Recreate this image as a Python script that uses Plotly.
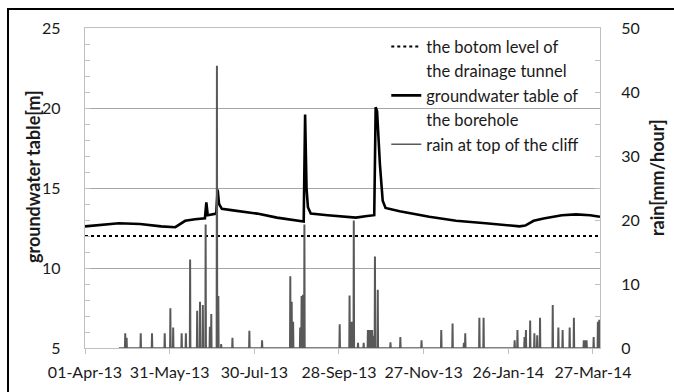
import pandas as pd
import plotly.graph_objects as go

# ---------------- data ----------------
gw_dates = ["2013-04-01", "2013-04-12", "2013-04-25", "2013-05-10", "2013-05-25", "2013-06-04",
            "2013-06-11", "2013-06-18", "2013-06-25", "2013-06-26", "2013-06-27", "2013-07-03",
            "2013-07-04", "2013-07-05", "2013-07-07", "2013-07-15", "2013-08-01", "2013-08-15",
            "2013-09-01", "2013-09-03", "2013-09-04", "2013-09-05", "2013-09-06", "2013-09-08",
            "2013-09-20", "2013-10-01", "2013-10-10", "2013-10-18", "2013-10-23", "2013-10-24",
            "2013-10-25", "2013-10-27", "2013-10-29", "2013-10-31", "2013-11-10", "2013-12-01",
            "2013-12-20", "2014-01-10", "2014-01-25", "2014-02-03", "2014-02-07", "2014-02-13",
            "2014-02-20", "2014-03-05", "2014-03-15", "2014-03-25", "2014-04-01"]
gw_values = [12.6, 12.68, 12.8, 12.75, 12.6, 12.55,
             12.95, 13.05, 13.1, 14.1, 13.3, 13.4,
             14.9, 14.0, 13.7, 13.6, 13.4, 13.15,
             12.95, 12.9, 19.6, 15.0, 13.8, 13.4,
             13.3, 13.2, 13.15, 13.25, 13.3, 20.05,
             19.8, 16.5, 14.2, 13.75, 13.55, 13.2,
             12.95, 12.8, 12.65, 12.6, 12.65, 12.95,
             13.1, 13.3, 13.35, 13.3, 13.2]

tunnel_level = 12.0

rain_dates = ["2013-04-29", "2013-04-30", "2013-05-10", "2013-05-18", "2013-05-27", "2013-05-31",
              "2013-06-02", "2013-06-08", "2013-06-11", "2013-06-14", "2013-06-19", "2013-06-21",
              "2013-06-23", "2013-06-25", "2013-06-28", "2013-06-29", "2013-07-03", "2013-07-04",
              "2013-07-06", "2013-07-14", "2013-07-26", "2013-08-04", "2013-08-24", "2013-08-25",
              "2013-08-26", "2013-08-31", "2013-09-01", "2013-09-02", "2013-09-03", "2013-09-28",
              "2013-10-05", "2013-10-06", "2013-10-07", "2013-10-08", "2013-10-11", "2013-10-15",
              "2013-10-18", "2013-10-19", "2013-10-20", "2013-10-21", "2013-10-22", "2013-10-23",
              "2013-10-25", "2013-11-03", "2013-11-10", "2013-11-25", "2013-12-09", "2013-12-17",
              "2013-12-25", "2013-12-26", "2014-01-05", "2014-01-08", "2014-01-30", "2014-02-01",
              "2014-02-06", "2014-02-07", "2014-02-10", "2014-02-13", "2014-02-15", "2014-02-17",
              "2014-02-26", "2014-03-02", "2014-03-05", "2014-03-10", "2014-03-13", "2014-03-20",
              "2014-03-21", "2014-03-22", "2014-03-27", "2014-03-30", "2014-03-31"]
rain_values = [2.2, 1.5, 2.2, 2.2, 2.2, 6.1,
               3.1, 2.2, 2.2, 13.7, 5.7, 7.1,
               6.6, 19.2, 3.2, 5.2, 44.0, 8.0,
               0.5, 1.5, 2.6, 1.1, 11.1, 7.1,
               4.0, 3.1, 8.0, 8.2, 19.2, 3.6,
               8.1, 4.0, 4.0, 19.8, 0.7, 0.7,
               2.7, 2.7, 2.7, 2.7, 1.8, 14.2,
               9.0, 0.8, 1.6, 1.1, 2.7, 3.7,
               0.7, 2.2, 4.6, 4.6, 1.1, 2.7,
               1.6, 2.7, 4.2, 2.2, 1.9, 4.6,
               6.6, 3.1, 2.7, 3.1, 4.6, 1.1,
               1.1, 1.1, 1.6, 4.0, 4.3]
rain_start = "2013-04-25"
period_end = "2014-04-01"

x_start = "2013-04-01"
x_end = "2014-04-01"
tick_step_days = 60

legend_labels = ["the botom level of", "the drainage tunnel",
                 "groundwater table of", "the borehole",
                 "rain at top of the cliff"]

# ---------------- build rain line (hourly-like spikes) ----------------
rx = [pd.Timestamp(rain_start)]
ry = [0.0]
for d, v in sorted(zip(rain_dates, rain_values)):
    t = pd.Timestamp(d) + pd.Timedelta(hours=12)
    rx += [t - pd.Timedelta(hours=10), t - pd.Timedelta(hours=5), t + pd.Timedelta(hours=5),
           t + pd.Timedelta(hours=10)]
    ry += [0.0, v, v, 0.0]
rx.append(pd.Timestamp(period_end))
ry.append(0.0)

FONT = "Lato"
TXT = "#1a1a1a"
fig = go.Figure()

fig.add_trace(go.Scatter(
    x=[x_start, x_end], y=[tunnel_level, tunnel_level], mode="lines",
    name=legend_labels[0],
    line=dict(color="black", width=2.2, dash="dot"), yaxis="y"))
fig.add_trace(go.Scatter(
    x=[None], y=[None], mode="lines", name=legend_labels[1],
    line=dict(color="rgba(0,0,0,0)", width=0), yaxis="y", hoverinfo="skip"))
fig.add_trace(go.Scatter(
    x=gw_dates, y=gw_values, mode="lines",
    name=legend_labels[2],
    line=dict(color="black", width=2.6), yaxis="y"))
fig.add_trace(go.Scatter(
    x=[None], y=[None], mode="lines", name=legend_labels[3],
    line=dict(color="rgba(0,0,0,0)", width=0), yaxis="y", hoverinfo="skip"))
fig.add_trace(go.Scatter(
    x=rx, y=ry, mode="lines",
    name=legend_labels[4],
    line=dict(color="#595959", width=1.4), yaxis="y2"))

grid = "#A6A6A6"
border = "#BFBFBF"

fig.update_layout(
    width=674, height=392,
    margin=dict(l=85, r=74, t=28, b=44),
    paper_bgcolor="white", plot_bgcolor="white",
    font=dict(family=FONT, size=16, color=TXT),
    showlegend=True,
    legend=dict(x=0.585, y=0.996, xanchor="left", yanchor="top",
                bgcolor="rgba(0,0,0,0)", borderwidth=0,
                font=dict(family=FONT, size=16.5, color=TXT),
                itemwidth=30, tracegroupgap=0),
    xaxis=dict(
        type="date", range=[x_start, x_end],
        tick0=x_start, dtick=tick_step_days * 86400000,
        tickformat="%d-%b-%y",
        showgrid=False, showline=True, linecolor=border, linewidth=1.3,
        mirror=True, ticks="outside", ticklen=5, tickcolor=border,
        ticklabelstandoff=5,
        tickfont=dict(family=FONT, size=16, color=TXT),
        zeroline=False,
    ),
    yaxis=dict(
        range=[5, 25], dtick=5, tick0=5,
        showgrid=True, gridcolor=grid, gridwidth=1.2,
        showline=True, linecolor=border, linewidth=1.3, mirror=True,
        ticks="inside", ticklen=5, tickcolor=border,
        minor=dict(dtick=1, ticks="inside", ticklen=5, tickcolor=border, showgrid=False),
        ticklabelstandoff=20,
        tickfont=dict(family=FONT, size=16, color=TXT),
        zeroline=False,
    ),
    yaxis2=dict(
        range=[0, 50], dtick=10, tick0=0, overlaying="y", side="right",
        showgrid=False, showline=True, linecolor=border, linewidth=1.3,
        ticks="inside", ticklen=5, tickcolor=border,
        minor=dict(dtick=5, ticks="inside", ticklen=5, tickcolor=border, showgrid=False),
        ticklabelstandoff=17,
        tickfont=dict(family=FONT, size=16, color=TXT),
        zeroline=False,
    ),
    annotations=[
        dict(text="<b>groundwater table[m]</b>", xref="paper", yref="paper",
             x=-0.101, y=0.5375, textangle=-90, showarrow=False,
             xanchor="center", yanchor="middle",
             font=dict(family=FONT, size=18, color=TXT)),
        dict(text="<b>rain[mm/hour]</b>", xref="paper", yref="paper",
             x=1.1107, y=0.531, textangle=-90, showarrow=False,
             xanchor="center", yanchor="middle",
             font=dict(family=FONT, size=18, color=TXT)),
    ],
    shapes=[
        dict(type="rect", xref="paper", yref="paper",
             x0=-0.1495, x1=1.16, y0=-0.17, y1=1.059,
             line=dict(color="black", width=2), fillcolor="rgba(0,0,0,0)", layer="above"),
    ],
)

fig.write_html("out.html", post_script="document.body.style.margin='0';",
               config={"displayModeBar": False})
